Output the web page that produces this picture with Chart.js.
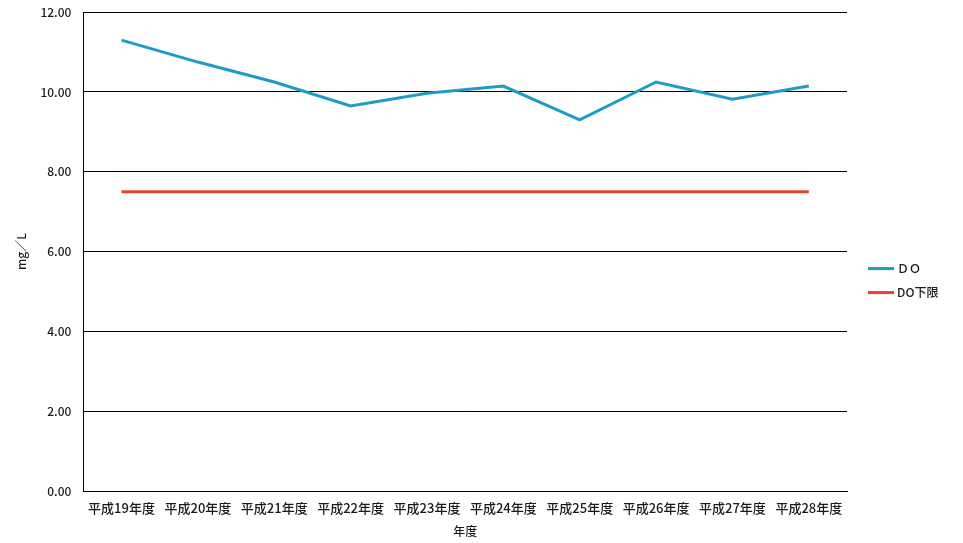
<!DOCTYPE html>
<html>
<head>
<meta charset="utf-8">
<script src="https://cdn.jsdelivr.net/npm/chart.js@4"></script>
<style>
  html, body { margin: 0; padding: 0; background: #fff; overflow: hidden; }
  #wrap { position: relative; top: -7px; width: 963px; height: 550px; }
</style>
</head>
<body>
<div id="wrap"><canvas id="grafico"></canvas></div>
<script>
const nendo = ["平成19年度", "平成20年度", "平成21年度", "平成22年度", "平成23年度",
  "平成24年度", "平成25年度", "平成26年度", "平成27年度", "平成28年度"];
const valoresDO = [11.3, 10.75, 10.25, 9.65, 9.97, 10.15, 9.3, 10.25, 9.82, 10.15];
const limiteDO = [7.5, 7.5, 7.5, 7.5, 7.5, 7.5, 7.5, 7.5, 7.5, 7.5];

const fuente = "'Noto Sans CJK JP', 'Noto Sans', sans-serif";
const colorTexto = "#1a1a1a";

const canvas_grafico = document.getElementById("grafico");

/* leyenda dibujada a mano a la derecha del area */
const leyendaDerecha = {
  id: "leyendaDerecha",
  afterDraw(chart) {
    const ctx = chart.ctx;
    const area = chart.chartArea;
    const medio = (area.top + area.bottom) / 2;
    ctx.save();
    ctx.font = "500 12px " + fuente;
    ctx.fillStyle = colorTexto;
    ctx.textBaseline = "middle";
    chart.data.datasets.forEach((ds, i) => {
      const y = medio + 17 + i * 24;
      const x = area.right + 21;
      ctx.strokeStyle = ds.borderColor;
      ctx.lineWidth = 3;
      ctx.beginPath();
      ctx.moveTo(x, y);
      ctx.lineTo(x + 26, y);
      ctx.stroke();
      ctx.fillText(ds.label, x + 29, y);
    });
    ctx.restore();
  }
};

const config = {
  type: "line",
  data: {
    labels: nendo,
    datasets: [
      {
        label: "ＤＯ",
        data: valoresDO,
        borderColor: "#1e9bc6",
        backgroundColor: "#1e9bc6",
        borderWidth: 3,
        pointRadius: 0,
        tension: 0
      },
      {
        label: "DO下限",
        data: limiteDO,
        borderColor: "#e0452d",
        backgroundColor: "#e0452d",
        borderWidth: 3,
        pointRadius: 0,
        tension: 0
      }
    ]
  },
  options: {
    responsive: true,
    maintainAspectRatio: false,
    animation: false,
    layout: { padding: { top: 0, right: 116, bottom: 4, left: 14 } },
    plugins: {
      tooltip: { enabled: false },
      legend: { display: false }
    },
    scales: {
      x: {
        offset: true,
        grid: { display: false, drawTicks: false },
        border: { color: "#000", width: 1 },
        ticks: {
          font: { family: fuente, size: 13, weight: "500" },
          color: colorTexto,
          padding: 9,
          maxRotation: 0,
          autoSkip: false
        },
        title: {
          display: true,
          text: "年度",
          font: { family: fuente, size: 12, weight: "500" },
          color: colorTexto,
          padding: { top: 0, bottom: 0 }
        }
      },
      y: {
        min: 0,
        max: 12,
        grid: { color: "#000", lineWidth: 1, drawTicks: false },
        border: { color: "#000", width: 1 },
        ticks: {
          stepSize: 2,
          font: { family: fuente, size: 12, weight: "500" },
          color: colorTexto,
          padding: 12,
          callback: (v) => v.toFixed(2)
        },
        title: {
          display: true,
          text: "mg／L",
          font: { family: fuente, size: 12, weight: "500" },
          color: colorTexto,
          padding: { top: 0, bottom: 0 }
        }
      }
    }
  },
  plugins: [leyendaDerecha]
};

const myChart = new Chart(canvas_grafico, config);
</script>
</body>
</html>
